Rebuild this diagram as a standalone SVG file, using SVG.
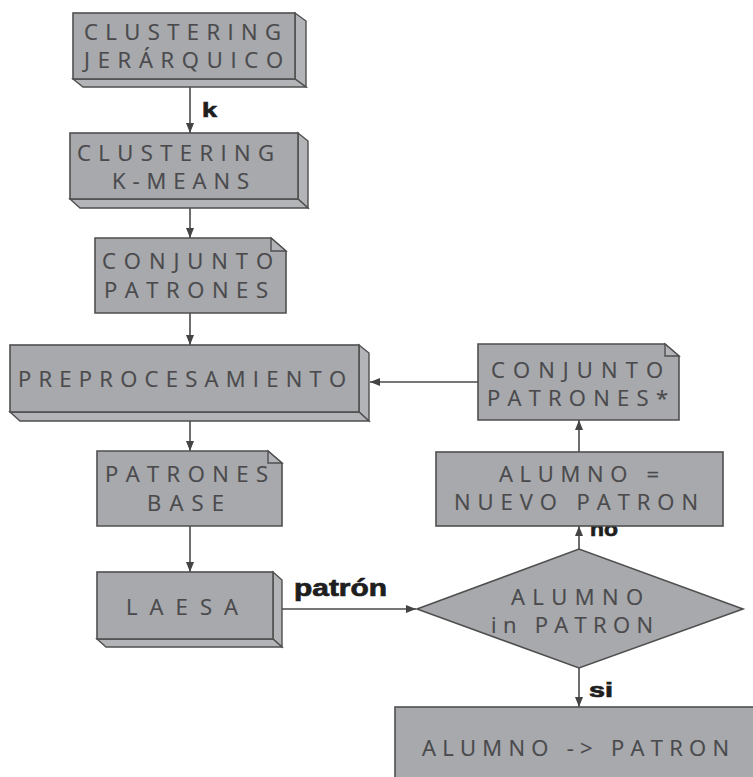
<svg xmlns="http://www.w3.org/2000/svg" width="753" height="777" viewBox="0 0 753 777">
<defs>
<marker id="ah" markerUnits="userSpaceOnUse" markerWidth="10" markerHeight="10" viewBox="0 0 10 10" refX="10" refY="5" orient="auto">
<path d="M0,1 L10,5 L0,9 Z" fill="#444"/>
</marker>
<style>
.f{fill:#a8a9ac;stroke:#4f4f4f;stroke-width:1.6;stroke-linejoin:miter}
.s{fill:#b3b4b7;stroke:#4f4f4f;stroke-width:1.4;stroke-linejoin:miter}
.t{font-family:"Open Sans","Liberation Sans",sans-serif;font-size:22px;fill:#4a4a4d;stroke:#4a4a4d;stroke-width:0.2}
.l{font-family:"Liberation Sans",Arial,sans-serif;font-weight:bold;fill:#1e1e1e;stroke:#1e1e1e;stroke-width:0.7}
.c{stroke:#4a4a4a;stroke-width:1.6;fill:none;marker-end:url(#ah)}
</style>
</defs>
<rect width="753" height="777" fill="#fff"/>
<g id="connectors">
<line class="c" x1="190" y1="87" x2="190" y2="133"/>
<line class="c" x1="190" y1="208" x2="190" y2="238"/>
<line class="c" x1="190" y1="313" x2="190" y2="345"/>
<line class="c" x1="190" y1="421" x2="190" y2="451"/>
<line class="c" x1="190" y1="526" x2="190" y2="572"/>
<line class="c" x1="282" y1="609" x2="416" y2="609"/>
<line class="c" x1="579" y1="549" x2="579" y2="526"/>
<line class="c" x1="579" y1="452" x2="579" y2="420"/>
<line class="c" x1="478" y1="382" x2="370" y2="382"/>
<line class="c" x1="579" y1="668" x2="579" y2="707"/>
<text class="l" x="202" y="117" font-size="21" textLength="15" lengthAdjust="spacingAndGlyphs">k</text>
<text class="l" x="294" y="596" font-size="23" textLength="93" lengthAdjust="spacingAndGlyphs">patrón</text>
<text class="l" x="590" y="536" font-size="21" textLength="28" lengthAdjust="spacingAndGlyphs">no</text>
<text class="l" x="589" y="697" font-size="20" textLength="24" lengthAdjust="spacingAndGlyphs">si</text>
</g>
<g id="clustering-jerarquico">
<path class="s" d="M295,13 L306,21 L306,87 L295,79 Z"/>
<path class="s" d="M73,79 L295,79 L306,87 L83,87 Z"/>
<rect class="f" x="73" y="13" width="222" height="66"/>
<text class="t" x="84" y="40" textLength="197" lengthAdjust="spacing">CLUSTERING</text>
<text class="t" x="84" y="68" textLength="199" lengthAdjust="spacing">JERÁRQUICO</text>
</g>
<g id="clustering-kmeans">
<path class="s" d="M298,133 L308,141 L308,208 L298,199 Z"/>
<path class="s" d="M70,199 L298,199 L308,208 L80,208 Z"/>
<rect class="f" x="70" y="133" width="228" height="66"/>
<text class="t" x="77" y="161" textLength="197" lengthAdjust="spacing">CLUSTERING</text>
<text class="t" x="112" y="189" textLength="137" lengthAdjust="spacing">K-MEANS</text>
</g>
<g id="conjunto-patrones">
<path class="f" d="M95,238 L271,238 L286,251 L286,313 L95,313 Z"/>
<path class="s" d="M271,238 L271,251 L286,251 Z"/>
<text class="t" x="102" y="269" textLength="171" lengthAdjust="spacing">CONJUNTO</text>
<text class="t" x="104" y="298" textLength="164" lengthAdjust="spacing">PATRONES</text>
</g>
<g id="preprocesamiento">
<path class="s" d="M359,345 L369,353 L369,421 L359,412 Z"/>
<path class="s" d="M10,412 L359,412 L369,421 L20,421 Z"/>
<rect class="f" x="10" y="345" width="349" height="67"/>
<text class="t" x="18" y="387" textLength="328" lengthAdjust="spacing">PREPROCESAMIENTO</text>
</g>
<g id="patrones-base">
<path class="f" d="M97,451 L268,451 L282,463 L282,526 L97,526 Z"/>
<path class="s" d="M268,451 L268,463 L282,463 Z"/>
<text class="t" x="105" y="482" textLength="163" lengthAdjust="spacing">PATRONES</text>
<text class="t" x="147" y="511" textLength="77" lengthAdjust="spacing">BASE</text>
</g>
<g id="laesa">
<path class="s" d="M273,572 L282,580 L282,647 L273,639 Z"/>
<path class="s" d="M97,639 L273,639 L282,647 L106,647 Z"/>
<rect class="f" x="97" y="572" width="176" height="67"/>
<text class="t" x="126" y="615" textLength="112" lengthAdjust="spacing">LAESA</text>
</g>
<g id="conjunto-patrones-star">
<path class="f" d="M478,344 L665,344 L679,356 L679,420 L478,420 Z"/>
<path class="s" d="M665,344 L665,356 L679,356 Z"/>
<text class="t" x="491" y="378" textLength="172" lengthAdjust="spacing">CONJUNTO</text>
<text class="t" x="487" y="406" textLength="181" lengthAdjust="spacing">PATRONES*</text>
</g>
<g id="alumno-nuevo-patron">
<rect class="f" x="436" y="452" width="287" height="74"/>
<text class="t" x="499" y="482" textLength="160" lengthAdjust="spacing">ALUMNO =</text>
<text class="t" x="454" y="510" textLength="244" lengthAdjust="spacing">NUEVO PATRON</text>
</g>
<g id="alumno-in-patron">
<path class="f" d="M417,609 L579,549 L743,609 L579,668 Z"/>
<text class="t" x="511" y="605" textLength="132" lengthAdjust="spacing">ALUMNO</text>
<text class="t" x="491" y="633" textLength="162" lengthAdjust="spacing">in PATRON</text>
</g>
<g id="alumno-patron">
<rect class="f" x="395" y="707" width="370" height="90"/>
<text class="t" x="422" y="756" textLength="307" lengthAdjust="spacing">ALUMNO -&gt; PATRON</text>
</g>
</svg>
